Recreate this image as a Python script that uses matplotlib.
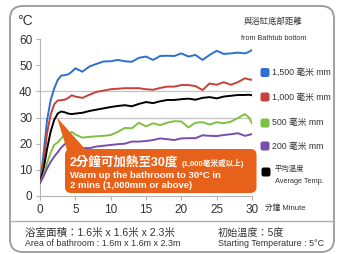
import matplotlib
matplotlib.use("Agg")
import matplotlib.pyplot as plt
from matplotlib.patches import FancyBboxPatch, Polygon
from matplotlib.lines import Line2D
import matplotlib.transforms as mtrans

plt.rcParams['font.family'] = ['Liberation Sans', 'Noto Sans CJK TC', 'DejaVu Sans']

# ---- data ----
minutes = [0, 0.5, 1, 1.5, 2, 2.5, 3, 3.5, 4, 4.5, 5, 6, 7, 8, 9, 10, 11, 12, 13, 14,
           15, 16, 17, 18, 19, 20, 21, 22, 23, 24, 25, 26, 27, 28, 29, 29.5, 30]
temp_1500 = [5, 16, 29, 36.5, 41, 44.3, 46, 46.2, 46.5, 47.5, 48.8, 47.5, 49.5, 50.5, 51.4,
             51.5, 52, 51.5, 51.3, 52.8, 53.3, 52, 53.5, 53.6, 53.5, 54.5, 53.3, 53.9, 52,
             53.9, 55.5, 54.3, 54.5, 54.8, 54.5, 55, 55.8]
temp_1000 = [5, 13, 24, 31, 35, 36.5, 36.6, 36.8, 37.5, 38.5, 38, 37.5, 38.7, 39.8, 40.3,
             40.8, 41, 41.2, 41.2, 41.2, 40.8, 40.6, 41.3, 41.8, 41.8, 42.4, 42.4, 42, 40.5,
             43, 42.5, 43.5, 42.5, 43.5, 45, 44.6, 44.4]
temp_avg = [5, 10, 18, 24.5, 29, 31.5, 32.3, 32, 31.5, 31.3, 31.5, 31.8, 32.5, 33, 33.5,
            34, 34.4, 34.7, 34.3, 35.2, 35.9, 35.5, 36.2, 36.7, 36.7, 37, 37.2, 36.8, 37.5,
            37.8, 37.3, 38, 38.3, 38.6, 38.6, 38.7, 38.5]
temp_500 = [5, 8, 12.5, 16.5, 19.5, 20.5, 22, 23.5, 23.5, 24.5, 23.5, 22.3, 22.6, 22.8, 23,
            23.3, 24.5, 26, 25.9, 28, 26.6, 27.8, 27.1, 28, 28.6, 28.5, 26.2, 28, 28.2,
            27.3, 28.2, 27.8, 28.4, 29.8, 31.3, 30.2, 27.8]
temp_200 = [5, 7.5, 10.5, 13, 15, 16.7, 18.5, 19.8, 20.5, 20.3, 19, 18.3, 18.3, 18.9, 19.2,
            19.5, 19.8, 20, 20.8, 20.8, 21, 21.4, 22, 21.7, 21.4, 22, 22.1, 22.1, 23.2,
            23, 22.9, 23.3, 23.6, 24, 23, 23.3, 23.7]

series_labels = ['1,500 毫米 mm', '1,000 毫米 mm', '500 毫米 mm', '200 毫米 mm']
series_values = [temp_1500, temp_1000, temp_500, temp_200]
series_colors = ['#2e6fd0', '#c8403a', '#80c040', '#7a4cad']
avg_label = ('平均溫度', 'Average Temp.')
x_ticks = [0, 5, 10, 15, 20, 25, 30]
y_ticks = [0, 10, 20, 30, 40, 50, 60]
grid_values = [30, 40]
callout_point = (2.4, 30)

W, H = 338, 254
fig = plt.figure(figsize=(W / 100, H / 100), dpi=100)
px = mtrans.Affine2D().scale(1 / W, -1 / H).translate(0, 1) + fig.transFigure

# outer frame
frame = FancyBboxPatch((10, 6), 324, 246, boxstyle="round,pad=0,rounding_size=13",
                       transform=px, fc='none', ec='#9a9a9a', lw=1.3, zorder=0)
fig.patches.append(frame)
fig.lines.append(Line2D([10, 334], [221, 221], transform=px, color='#b0b0b0', lw=1.0))

ax = fig.add_axes([40 / W, 1 - 196 / H, 212 / W, 157 / H])
ax.set_zorder(1)
ax.set_facecolor('none')
ax.set_xlim(0, 30)
ax.set_ylim(0, 60)
for g in grid_values:
    ax.axhline(g, color='#c4c4c4', lw=0.9, zorder=1)

for vals, col in zip(series_values[:2], series_colors[:2]):
    ax.plot(minutes, vals, color=col, lw=1.4, zorder=3)
ax.plot(minutes, temp_avg, color='black', lw=1.4, zorder=3)
for vals, col in zip(series_values[2:], series_colors[2:]):
    ax.plot(minutes, vals, color=col, lw=1.4, zorder=3)

ax.set_xticks(x_ticks)
ax.set_yticks(y_ticks)
for s in ['top', 'right']:
    ax.spines[s].set_visible(False)
for s in ['left', 'bottom']:
    ax.spines[s].set_color('#b5b5b5')
    ax.spines[s].set_linewidth(0.8)
ax.tick_params(axis='both', colors='#b5b5b5', length=3, width=0.8, labelcolor='#333333',
               labelsize=8.5)
ax.tick_params(axis='x', pad=3)
ax.tick_params(axis='y', pad=2.5)

# texts
tc = '#333333'
fig.text(25 / W, 1 - 21 / H, '°C', fontsize=10, color=tc, ha='center', va='center')
fig.text(273 / W, 1 - 21.7 / H, '與浴缸底部距離', fontsize=6.0, color=tc, ha='center', va='center')
fig.text(274 / W, 1 - 38.3 / H, 'from Bathtub bottom', fontsize=5.2, color=tc, ha='center', va='center')
fig.text(265 / W, 1 - 208.3 / H, '分鐘 Minute', fontsize=5.5, color=tc, ha='left', va='center')

legend_y = [72.5, 97, 123, 146]
for yc, lab, col in zip(legend_y, series_labels, series_colors):
    fig.patches.append(FancyBboxPatch((260.5, yc - 4.5), 9, 9,
                                      boxstyle="round,pad=0,rounding_size=2.2",
                                      transform=px, fc=col, ec='none'))
    fig.text(271.5 / W, 1 - yc / H, lab, fontsize=6.3, color=tc, ha='left', va='center')
fig.patches.append(FancyBboxPatch((261.5, 167.5), 9, 9, boxstyle="round,pad=0,rounding_size=2.2",
                                  transform=px, fc='black', ec='none'))
fig.text(275 / W, 1 - 169.5 / H, avg_label[0], fontsize=5.3, color=tc, ha='left', va='center')
fig.text(275 / W, 1 - 181.5 / H, avg_label[1], fontsize=5.3, color=tc, ha='left', va='center')

fig.text(25 / W, 1 - 233 / H, '浴室面積：1.6米 x 1.6米 x 2.3米', fontsize=7.6, color=tc, ha='left', va='center')
fig.text(25 / W, 1 - 243.5 / H, 'Area of bathroom : 1.6m x 1.6m x 2.3m', fontsize=6.4, color=tc,
         ha='left', va='center')
fig.text(218 / W, 1 - 233 / H, '初始溫度：5度', fontsize=7.3, color=tc, ha='left', va='center')
fig.text(218 / W, 1 - 243.5 / H, 'Starting Temperature : 5°C', fontsize=6.4, color=tc,
         ha='left', va='center')

# callout
orange = '#e8611a'
fig.patches.append(FancyBboxPatch((65, 149), 191.5, 44, boxstyle="round,pad=0,rounding_size=6",
                                  transform=px, fc=orange, ec='none', zorder=5))
tip = ax.transData.transform(callout_point)
tip_px = (tip[0], H - tip[1])
fig.patches.append(Polygon([tip_px, (67, 150), (86, 150)], closed=True, transform=px,
                           fc=orange, ec='none', zorder=5))
fig.text(70 / W, 1 - 162.5 / H, '2分鐘可加熱至30度', fontsize=9, color='white', weight='bold',
         ha='left', va='center', zorder=6)
fig.text(181.5 / W, 1 - 163.5 / H, '(1,000毫米或以上)', fontsize=5.5, color='white', weight='bold',
         ha='left', va='center', zorder=6)
fig.text(70 / W, 1 - 175 / H, 'Warm up the bathroom to 30°C in', fontsize=6.8, color='white',
         weight='bold', ha='left', va='center', zorder=6)
fig.text(70 / W, 1 - 185.5 / H, '2 mins (1,000mm or above)', fontsize=6.8, color='white',
         weight='bold', ha='left', va='center', zorder=6)

fig.savefig('out.png', dpi=100)
